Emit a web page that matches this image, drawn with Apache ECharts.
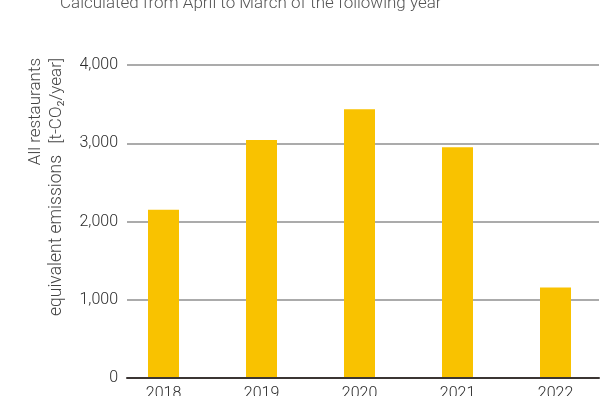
<!DOCTYPE html>
<html>
<head>
<meta charset="utf-8">
<script src="https://cdn.jsdelivr.net/npm/echarts@6/dist/echarts.min.js"></script>
<style>
  html, body { margin: 0; padding: 0; background: #ffffff; }
  #chart { width: 608px; height: 396px; }
</style>
</head>
<body>
<div id="chart"></div>
<script>
// Fiscal years (April to March) and total emissions for all restaurants
const years = ['2018', '2019', '2020', '2021', '2022'];
const emissions = [2150, 3040, 3435, 2950, 1157];
const yTicks = { min: 0, max: 4000, interval: 1000 };

const subtitle = 'Calculated from April to March of the following year';
const yNameLine1 = 'All restaurants';
const yNameLine2a = 'equivalent emissions';
const yNameLine2b = '[t-CO\u2082/year]';

const FONT = 'Roboto, "Liberation Sans", Arial, sans-serif';
const chart = echarts.init(document.getElementById('chart'), null, { renderer: 'canvas' });

const nameStyle = (text, align, size) => ({
  text: text, fill: '#444444',
  font: '300 ' + size + 'px ' + FONT,
  align: align, verticalAlign: 'middle'
});

chart.setOption({
  animation: false,
  backgroundColor: '#ffffff',
  grid: [
    // axis frame: gridlines, value labels, baseline
    { left: 127, right: 9, top: 65, bottom: 18, outerBoundsMode: 'none', containLabel: false },
    // bar area
    { left: 114.5, width: 490, top: 65, bottom: 18, outerBoundsMode: 'none', containLabel: false }
  ],
  xAxis: [
    {
      type: 'category', gridIndex: 0, data: years, z: 5,
      axisLine: { show: true, lineStyle: { color: '#3b3533', width: 2 } },
      axisTick: { show: false },
      axisLabel: { show: false },
      splitLine: { show: false }
    },
    {
      type: 'category', gridIndex: 1, data: years,
      axisLine: { show: false },
      axisTick: { show: false },
      axisLabel: {
        margin: 8, color: '#2b2b2b', fontSize: 16,
        fontFamily: FONT, fontWeight: 300
      }
    }
  ],
  yAxis: [
    {
      type: 'value', gridIndex: 0,
      min: yTicks.min, max: yTicks.max, interval: yTicks.interval,
      axisLine: { show: false },
      axisTick: { show: false },
      axisLabel: {
        margin: 9, color: '#2b2b2b', fontSize: 16,
        fontFamily: FONT, fontWeight: 300,
        formatter: v => v.toLocaleString('en-US')
      },
      splitLine: { show: true, lineStyle: { color: '#ababab', width: 2 } }
    },
    {
      type: 'value', gridIndex: 1,
      min: yTicks.min, max: yTicks.max, interval: yTicks.interval,
      show: false,
      splitLine: { show: false }
    }
  ],
  series: [
    {
      type: 'bar',
      xAxisIndex: 1, yAxisIndex: 1,
      data: emissions,
      barWidth: 31,
      itemStyle: { color: '#f9c200' },
      z: 2
    }
  ],
  graphic: [
    {
      type: 'text', left: 60, top: -5,
      style: {
        text: subtitle, fill: '#555555',
        font: '300 17px ' + FONT
      }
    },
    // rotated y-axis title, read bottom to top
    { type: 'text', x: 36, y: 58, rotation: Math.PI / 2, style: nameStyle(yNameLine1, 'right', 17) },
    { type: 'text', x: 57, y: 58, rotation: Math.PI / 2, style: nameStyle(yNameLine2b, 'right', 17) },
    { type: 'text', x: 57, y: 155, rotation: Math.PI / 2, style: nameStyle(yNameLine2a, 'right', 17.5) }
  ]
});
</script>
</body>
</html>
